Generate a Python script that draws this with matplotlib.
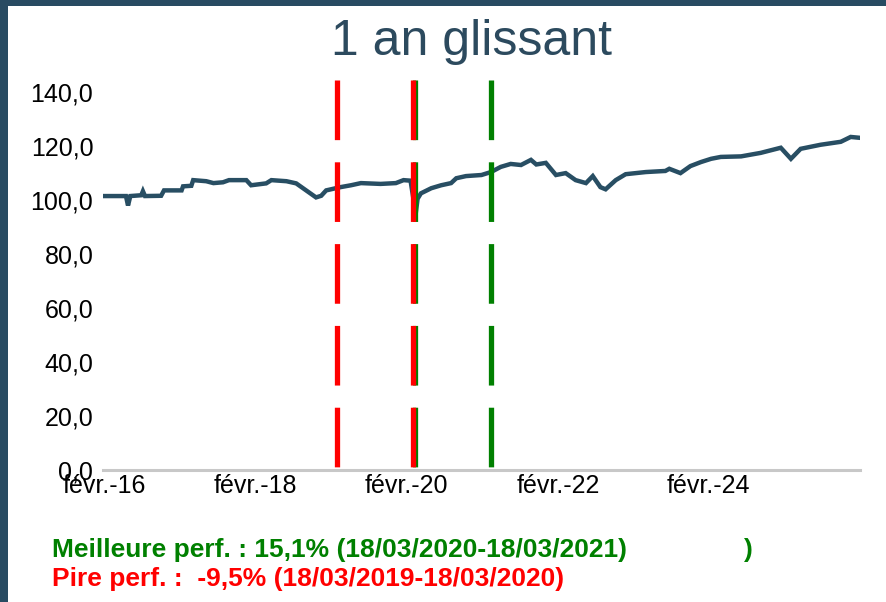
import numpy as np
import pandas as pd
import matplotlib
matplotlib.use("Agg")
import matplotlib.pyplot as plt
import matplotlib.transforms as mtransforms
from matplotlib.patches import Rectangle
from matplotlib.ticker import FuncFormatter

plt.rcParams['font.family'] = ['Liberation Sans', 'DejaVu Sans']

# --- data ---
dates = ["2016-02-01", "2016-05-15", "2016-05-25", "2016-06-05", "2016-07-28",
         "2016-08-05", "2016-08-15", "2016-11-01", "2016-11-15", "2017-02-08",
         "2017-02-15", "2017-03-27", "2017-04-05", "2017-06-07", "2017-07-12",
         "2017-08-27", "2017-09-25", "2017-12-18", "2018-01-10", "2018-03-24",
         "2018-04-18", "2018-06-30", "2018-08-16", "2018-10-03", "2018-11-20",
         "2018-12-15", "2019-01-08", "2019-03-18", "2019-05-08", "2019-06-25",
         "2019-09-28", "2019-12-11", "2020-01-17", "2020-02-20", "2020-03-16",
         "2020-03-25", "2020-04-10", "2020-05-30", "2020-07-17", "2020-09-03",
         "2020-09-28", "2020-11-14", "2021-01-28", "2021-03-15", "2021-05-01",
         "2021-06-18", "2021-08-07", "2021-09-24", "2021-10-20", "2021-12-05",
         "2022-01-23", "2022-03-11", "2022-04-28", "2022-06-17", "2022-07-20",
         "2022-08-26", "2022-09-20", "2022-11-08", "2022-12-26", "2023-04-03",
         "2023-07-06", "2023-07-25", "2023-09-17", "2023-11-04", "2023-12-25",
         "2024-02-12", "2024-03-30", "2024-07-06", "2024-10-09", "2025-01-14",
         "2025-03-04", "2025-04-20", "2025-07-25", "2025-10-31", "2025-12-18",
         "2026-01-28"]
values = [101.5, 101.5, 98.0, 101.5, 101.8,
          103.3, 101.5, 101.6, 103.6, 103.6,
          105.1, 105.3, 107.4, 107.0, 106.3,
          106.6, 107.4, 107.4, 105.5, 106.2,
          107.4, 107.0, 106.2, 103.6, 101.0,
          101.6, 103.6, 104.8, 105.5, 106.3,
          106.0, 106.3, 107.4, 107.2, 95.0,
          100.5, 102.5, 104.4, 105.5, 106.3,
          108.1, 108.9, 109.3, 110.4, 112.3,
          113.4, 113.0, 114.9, 113.2, 113.8,
          109.3, 110.0, 107.4, 106.3, 108.9,
          104.8, 104.0, 107.4, 109.6, 110.4,
          110.8, 111.6, 110.0, 112.6, 114.1,
          115.3, 116.0, 116.2, 117.5, 119.4,
          115.3, 119.0, 120.5, 121.6, 123.4,
          123.1]

best_period = ["2020-03-18", "2021-03-18"]
worst_period = ["2019-03-18", "2020-03-18"]
best_perf = 15.1
worst_perf = -9.5

tick_years = [2016, 2018, 2020, 2022, 2024]
month_label = "févr."

# --- styles ---
line_color = '#284e63'
frame_color = '#284b62'
green = '#008000'
red = '#ff0000'

W, H = 887, 602
fig = plt.figure(figsize=(W / 100, H / 100), dpi=100, facecolor='white')
# dark frame on the left and top edges
fig.patches.append(Rectangle((0, 0), 8 / W, 1, transform=fig.transFigure,
                             facecolor=frame_color, edgecolor='none', zorder=-1))
fig.patches.append(Rectangle((0, 1 - 6 / H), 1, 6 / H, transform=fig.transFigure,
                             facecolor=frame_color, edgecolor='none', zorder=-1))

ax = fig.add_axes([103 / W, 1 - 470 / H, (860 - 103) / W, 390 / H])
ax.set_facecolor('none')

x = pd.to_datetime(dates)
ax.plot(x, values, color=line_color, lw=3.2, solid_joinstyle='miter', zorder=3)

# rolling window markers, nudged so the shared date shows both colours
vtrans = ax.get_xaxis_transform()
g_shift = mtransforms.ScaledTranslation(-0.7 / 72, 0, fig.dpi_scale_trans)
r_shift = mtransforms.ScaledTranslation(-2.5 / 72, 0, fig.dpi_scale_trans)
for d in best_period:
    t = pd.Timestamp(d)
    ax.plot([t, t], [1, 0], color=green, lw=3.8, dashes=(11.3, 4.2),
            transform=vtrans + g_shift, zorder=4, clip_on=False)
for d in worst_period:
    t = pd.Timestamp(d)
    ax.plot([t, t], [1, 0], color=red, lw=3.8, dashes=(11.3, 4.2),
            transform=vtrans + r_shift, zorder=5, clip_on=False)

ax.set_ylim(0, 144.5)
ax.set_yticks(np.arange(0, 141, 20))
ax.yaxis.set_major_formatter(FuncFormatter(lambda v, p: f"{v:.1f}".replace('.', ',')))
ax.set_xlim(pd.Timestamp("2016-01-25"), pd.Timestamp("2026-02-01"))
ax.set_xticks([pd.Timestamp(f"{y}-02-01") for y in tick_years])
ax.set_xticklabels([f"{month_label}-{str(y)[2:]}" for y in tick_years])

for s in ['top', 'right', 'left']:
    ax.spines[s].set_visible(False)
ax.spines['bottom'].set_color('#c8c8c8')
ax.spines['bottom'].set_linewidth(2.2)
ax.tick_params(axis='both', length=0, labelsize=18, colors='black')
ax.tick_params(axis='y', pad=7)
ax.tick_params(axis='x', pad=3)

fig.text(472 / W, 1 - 42 / H, "1 an glissant", ha='center', va='center',
         fontsize=36, color='#2c4a5e')

def fr(v):
    return f"{v:.1f}".replace('.', ',')

def fmt(d):
    return pd.Timestamp(d).strftime("%d/%m/%Y")

fig.text(52 / W, 1 - 550 / H,
         f"Meilleure perf. : {fr(best_perf)}% ({fmt(best_period[0])}-{fmt(best_period[1])})",
         ha='left', va='center', fontsize=19, fontweight='bold', color=green)
fig.text(744 / W, 1 - 550 / H, ")", ha='left', va='center', fontsize=19,
         fontweight='bold', color=green)
fig.text(52 / W, 1 - 579 / H,
         f"Pire perf. :  {fr(worst_perf)}% ({fmt(worst_period[0])}-{fmt(worst_period[1])})",
         ha='left', va='center', fontsize=19, fontweight='bold', color=red)

fig.savefig("out.png", dpi=100, facecolor=fig.get_facecolor())
